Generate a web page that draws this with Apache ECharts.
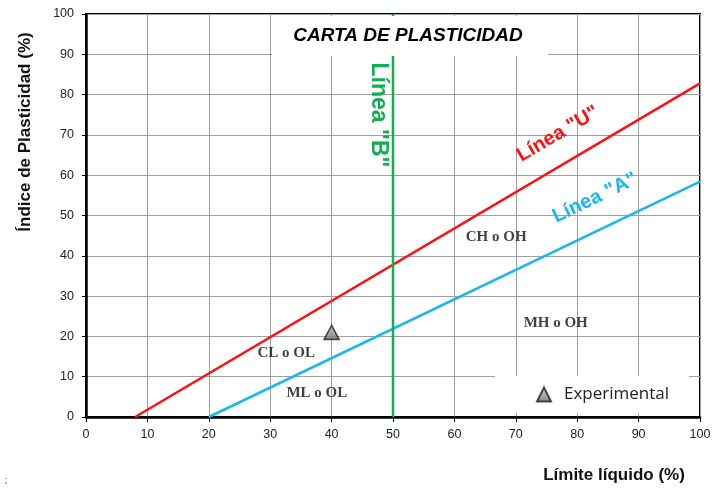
<!DOCTYPE html>
<html>
<head>
<meta charset="utf-8">
<script src="https://cdn.jsdelivr.net/npm/echarts@6/dist/echarts.min.js"></script>
<style>html,body{margin:0;padding:0;background:#fff}#c{width:715px;height:490px}</style>
</head>
<body>
<div id="c"></div>
<script>
// Data
var xTicks = [0, 10, 20, 30, 40, 50, 60, 70, 80, 90, 100];
var yTicks = [0, 10, 20, 30, 40, 50, 60, 70, 80, 90, 100];
var lineU = [[8, 0], [100, 82.8]];
var lineA = [[20, 0], [100, 58.4]];
var lineB = [[50, 0], [50, 100]];
var experimental = [[40, 21]];
var zoneLabels = ['CH o OH', 'MH o OH', 'CL o OL', 'ML o OL'];
var zonePoints = [[66.8, 44.7], [76.5, 23.3], [32.6, 15.9], [37.6, 6.0]];

var chart = echarts.init(document.getElementById('c'), null, {renderer: 'canvas'});
var G = {l: 86, r: 15, t: 14, b: 73};

var option = {
  animation: false,
  backgroundColor: '#fff',
  grid: {left: G.l, right: G.r, top: G.t, bottom: G.b, show: true, borderColor: '#000', borderWidth: 2, containLabel: false},
  title: {
    text: 'CARTA DE PLASTICIDAD', left: 408, top: 26, textAlign: 'center', z: 20, padding: 0,
    textStyle: {fontFamily: 'Liberation Sans', fontSize: 19, fontWeight: 'bold', fontStyle: 'italic', color: '#000'}
  },
  legend: {
    data: ['Experimental'], left: 495, top: 376, orient: 'horizontal',
    backgroundColor: '#fff', padding: [10, 20, 10, 41],
    itemWidth: 14, itemHeight: 14,
    textStyle: {fontFamily: 'Open Sans', fontSize: 17, color: '#222', padding: [0, 0, 0, 8]}
  },
  xAxis: {
    type: 'value', min: 0, max: 100, interval: 10,
    axisLine: {lineStyle: {color: '#000', width: 2.5}},
    axisTick: {show: true, length: 5, lineStyle: {color: '#000', width: 1}},
    axisLabel: {margin: 11, fontFamily: 'Liberation Sans', fontSize: 12.5, color: '#222'},
    splitLine: {lineStyle: {color: '#a0a0a0', width: 1}}
  },
  yAxis: {
    type: 'value', min: 0, max: 100, interval: 10,
    axisLine: {show: true, lineStyle: {color: '#000', width: 2.5}},
    axisTick: {show: true, length: 4, lineStyle: {color: '#000', width: 1}},
    axisLabel: {margin: 12, fontFamily: 'Liberation Sans', fontSize: 12.5, color: '#222'},
    splitLine: {lineStyle: {color: '#a0a0a0', width: 1}}
  },
  series: [
    {name: 'Línea "U"', type: 'line', data: lineU, symbol: 'none', lineStyle: {color: '#ff1010', width: 2.5}, z: 3},
    {name: 'Línea "A"', type: 'line', data: lineA, symbol: 'none', lineStyle: {color: '#1ab6ee', width: 2.5}, z: 3},
    {name: 'Línea "B"', type: 'line', data: lineB, symbol: 'none', lineStyle: {color: '#10b050', width: 2.5}, z: 3},
    {
      name: 'Zonas', type: 'scatter', data: zonePoints.map(function (p, i) { return {value: p, name: zoneLabels[i]}; }),
      symbolSize: 0, silent: true,
      label: {show: true, position: 'inside', formatter: function (p) { return p.name; },
        fontFamily: 'Liberation Serif', fontWeight: 'bold', fontSize: 15, color: '#111'}
    },
    {
      name: 'Experimental', type: 'scatter', data: experimental, symbol: 'triangle', symbolSize: [15, 14], z: 5,
      itemStyle: {
        color: new echarts.graphic.LinearGradient(0, 0, 0, 1, [{offset: 0, color: '#c8c8c8'}, {offset: 1, color: '#6a6a6a'}]),
        borderColor: '#222', borderWidth: 1.6
      }
    }
  ],
  graphic: [
    {type: 'rect', shape: {x: 272, y: 16, width: 276, height: 40}, style: {fill: '#fff'}, z: 10},
    {type: 'text', x: 378, y: 115, rotation: -Math.PI / 2, z: 11,
      style: {text: 'Línea "B"', font: 'bold 23px "Liberation Sans"', fill: '#10b050', textAlign: 'center', textVerticalAlign: 'middle'}},
    {type: 'text', x: 558, y: 134, rotation: 30.6 * Math.PI / 180, z: 11,
      style: {text: 'Línea "U"', font: 'bold 20px "Liberation Sans"', fill: '#ff1010', textAlign: 'center', textVerticalAlign: 'middle'}},
    {type: 'text', x: 595, y: 198, rotation: 25.6 * Math.PI / 180, z: 11,
      style: {text: 'Línea "A"', font: 'bold 20px "Liberation Sans"', fill: '#1ab6ee', textAlign: 'center', textVerticalAlign: 'middle'}},
    {type: 'text', x: 25, y: 132, rotation: Math.PI / 2, z: 11,
      style: {text: 'Índice de Plasticidad (%)', font: 'bold 17px "Liberation Sans"', fill: '#111', textAlign: 'center', textVerticalAlign: 'middle'}},
    {type: 'text', x: 614, y: 475, z: 11,
      style: {text: 'Límite líquido (%)', font: 'bold 17px "Liberation Sans"', fill: '#111', textAlign: 'center', textVerticalAlign: 'middle'}},
    {type: 'text', x: 6, y: 481, z: 11,
      style: {text: ';', font: '9px "Liberation Sans"', fill: '#333', textAlign: 'center', textVerticalAlign: 'middle'}}
  ]
};
chart.setOption(option);
</script>
</body>
</html>
